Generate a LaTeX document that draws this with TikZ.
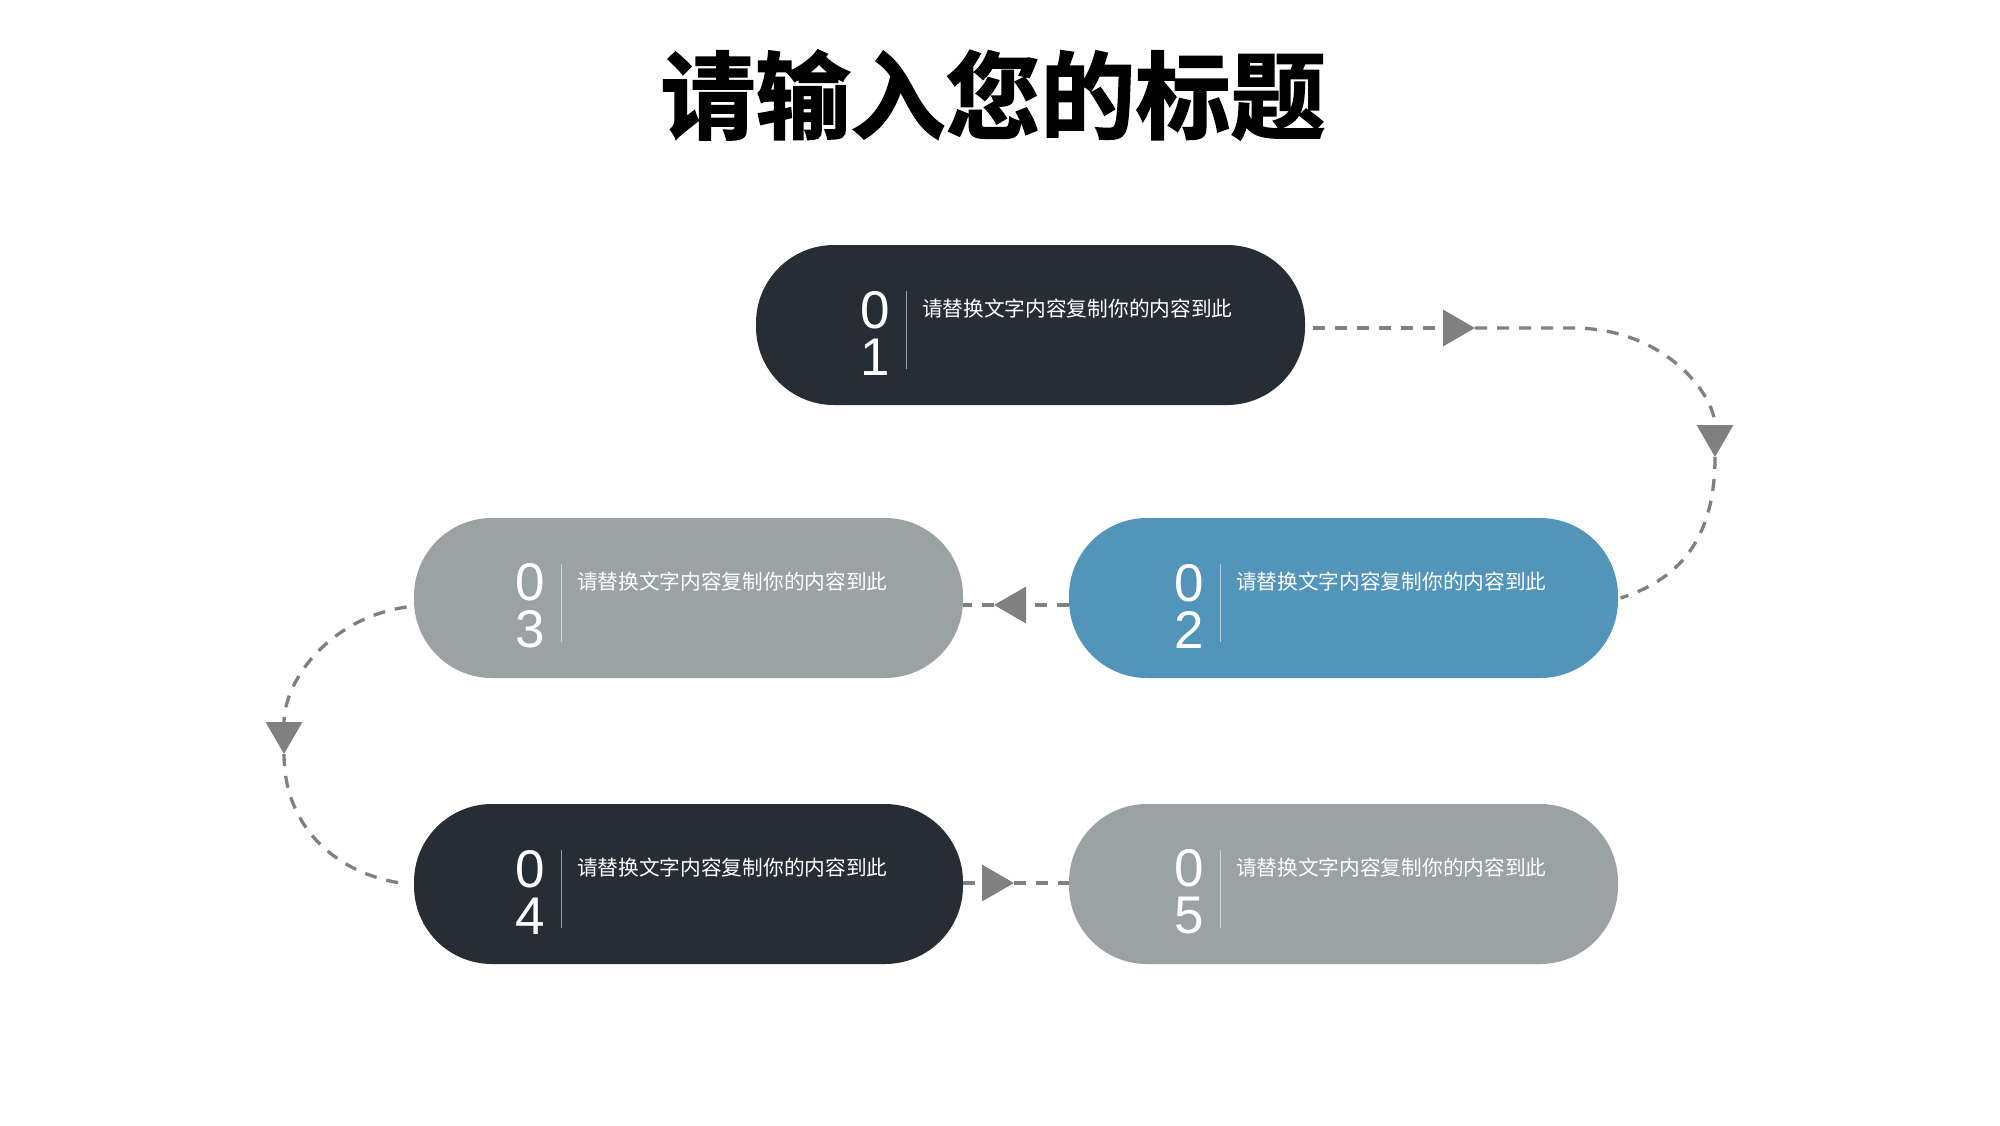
\documentclass[tikz,border=0pt]{standalone}
\usepackage{fontspec}
\usetikzlibrary{arrows.meta,calc}
\newfontfamily\cjk{Noto Sans CJK SC}
\newfontfamily\titlefont{Noto Sans CJK SC Bold}[FakeBold=1.8]
\newfontfamily\digitfont{Liberation Sans}
\definecolor{darkbox}{HTML}{262D35}
\definecolor{bluebox}{HTML}{5294BA}
\definecolor{graybox}{HTML}{9AA2A4}
\definecolor{conngray}{HTML}{808080}
\tikzset{
  pill/.style={draw=none, minimum width=274.5pt, minimum height=80pt, rounded corners=39pt, inner sep=0pt},
  digit/.style={text=white, inner sep=0pt, align=center, font=\digitfont\fontsize{26.5pt}{23.5pt}\selectfont},
  desc/.style={text=white, inner sep=0pt, anchor=west, font=\cjk\fontsize{10.35pt}{12pt}\selectfont},
  sepline/.style={draw=white, draw opacity=0.55, line width=0.75pt},
  conn/.style={draw=conngray, line width=1.65pt, dash pattern=on 6pt off 5pt},
  arrowend/.style={-{Triangle[length=16pt,width=18pt]}},
  titletext/.style={inner sep=0pt, text=black, font=\titlefont\fontsize{47.5pt}{50pt}\selectfont}
}
\begin{document}
\begin{tikzpicture}[x=0.5pt,y=-0.5pt]
\useasboundingbox (0,0) rectangle (2000,1125);
\fill[white] (0,0) rectangle (2000,1125);
\node[titletext] (title) at (993,95) {请输入您的标题};
\foreach \n/\cx/\cy/\col/\a/\b/\dx in {1/1030.5/325/darkbox/0/1/120, 2/1343.5/598/bluebox/0/2/121, 3/688.5/598/graybox/0/3/117, 4/688.5/884/darkbox/0/4/117, 5/1343.5/884/graybox/0/5/121} {
  \node[pill, fill=\col] (n\n) at (\cx,\cy) {};
  \node[digit] (d\n) at ($(n\n.west)+(\dx,8)$) {\a\\\b};
  \coordinate (sa\n) at ($(n\n.west)+(\dx+31,-34)$);
  \coordinate (sb\n) at ($(n\n.west)+(\dx+31,44)$);
  \draw[sepline] (sa\n) -- (sb\n);
  \node[desc] (t\n) at ($(n\n.west)+(\dx+46,-16)$) {请替换文字内容复制你的内容到此};
}
\coordinate (t1) at (1475,328);
\coordinate (b1) at (1573,328);
\coordinate (t2) at (1715,457);
\coordinate (t3) at (284,754);
\coordinate (t4) at (994,605);
\coordinate (t5) at (1014,883);
% 01 -> 02
\draw[conn,arrowend] ([xshift=4pt,yshift=-1.5pt]n1.east) -- (t1);
\draw[conn,arrowend] (t1) -- (b1) .. controls (1665,328) and (1715,395) .. (t2);
\draw[conn] (t2) .. controls (1715,532) and (1685,578) .. ([xshift=1pt]n2.east);
% 02 -> 03
\draw[conn,arrowend] ([yshift=-3.5pt]n2.west) -- (t4);
\draw[conn] (t4) -- ([yshift=-3.5pt]n3.east);
% 03 -> 04
\draw[conn,arrowend] ([xshift=-3.5pt,yshift=-4.5pt]n3.west) .. controls (330,618) and (284,680) .. (t3);
\draw[conn] (t3) .. controls (284,830) and (340,876) .. ([xshift=-3pt]n4.west);
% 04 -> 05
\draw[conn,arrowend] ([yshift=0.5pt]n4.east) -- (t5);
\draw[conn] (t5) -- ([yshift=0.5pt]n5.west);
\end{tikzpicture}
\end{document}
